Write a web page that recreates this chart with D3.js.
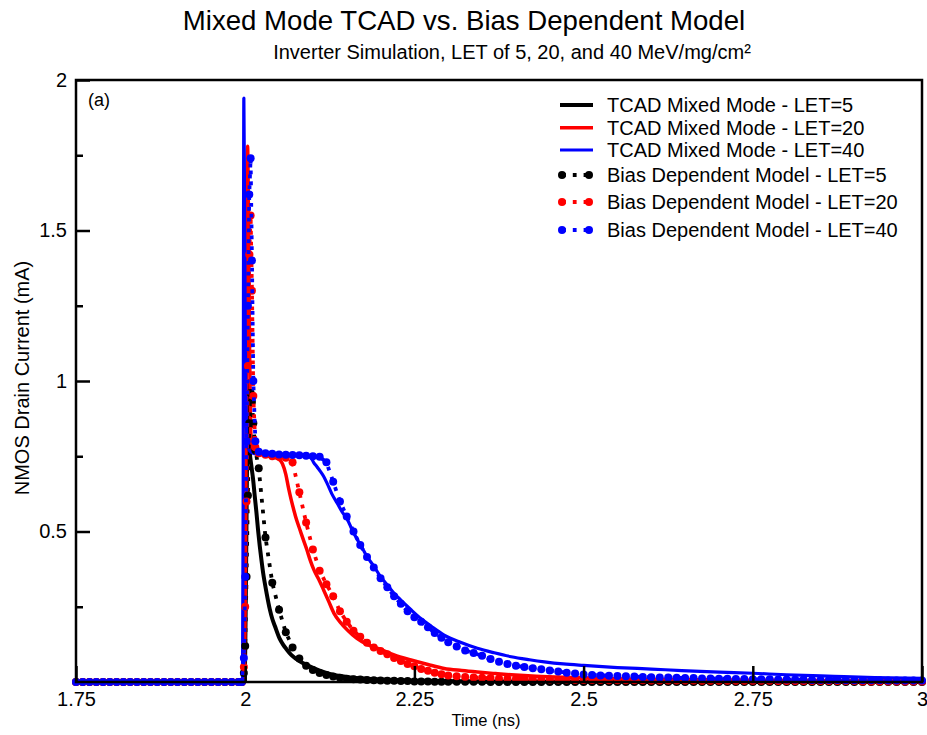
<!DOCTYPE html>
<html>
<head>
<meta charset="utf-8">
<script src="https://cdn.jsdelivr.net/npm/d3@7"></script>
<style>
  html, body { margin: 0; padding: 0; background: #fff; }
  svg { display: block; font-family: "Liberation Sans", Arial, Helvetica, sans-serif; }
</style>
</head>
<body>
<svg id="chart" width="927" height="735"></svg>
<script>
// ---------------- DATA ----------------
const xTicks = [1.75, 2, 2.25, 2.5, 2.75, 3];
const yTicks = [0.5, 1, 1.5, 2];
const yMinorTicks = [0.25, 0.75, 1.25, 1.75];

const seriesNames = [
  "TCAD Mixed Mode - LET=5", "TCAD Mixed Mode - LET=20", "TCAD Mixed Mode - LET=40",
  "Bias Dependent Model - LET=5", "Bias Dependent Model - LET=20", "Bias Dependent Model - LET=40"
];
const seriesColors = ["#000000", "#ff0000", "#0000ff"];

// TCAD mixed mode (solid lines)
const tcad5Time = [1.75, 1.999, 2.001, 2.003, 2.005, 2.0067, 2.009, 2.0117, 2.014, 2.0166, 2.019, 2.0215, 2.024, 2.0264, 2.029, 2.0314, 2.0363, 2.04, 2.0437, 2.0511, 2.056, 2.061, 2.068, 2.0758, 2.085, 2.0955, 2.11, 2.125, 2.15, 2.18, 2.22, 2.27, 2.35, 2.45, 3.0];
const tcad5 = [0, 0, 0.3, 0.8, 1.0, 0.77, 0.72, 0.673, 0.62, 0.563, 0.505, 0.452, 0.405, 0.364, 0.328, 0.298, 0.242, 0.21, 0.187, 0.143, 0.124, 0.109, 0.09, 0.076, 0.063, 0.052, 0.038, 0.027, 0.017, 0.011, 0.007, 0.004, 0.002, 0.001, 0];

const tcad20Time = [1.75, 1.999, 2.0005, 2.002, 2.0035, 2.005, 2.0065, 2.008, 2.010, 2.013, 2.02, 2.03, 2.04, 2.05, 2.055, 2.06, 2.064, 2.068, 2.072, 2.076, 2.081, 2.086, 2.091, 2.096, 2.102, 2.11, 2.116, 2.123, 2.131, 2.14, 2.151, 2.165, 2.18, 2.2, 2.22, 2.245, 2.27, 2.294, 2.32, 2.343, 2.37, 2.393, 2.43, 2.49, 2.55, 2.645, 2.75, 2.87, 3.0];
const tcad20 = [0, 0, 0.4, 1.2, 1.78, 1.5, 1.1, 0.85, 0.775, 0.765, 0.758, 0.752, 0.748, 0.74, 0.725, 0.69, 0.645, 0.605, 0.57, 0.538, 0.505, 0.472, 0.44, 0.405, 0.37, 0.335, 0.305, 0.27, 0.229, 0.2, 0.173, 0.145, 0.125, 0.108, 0.09, 0.073, 0.058, 0.045, 0.038, 0.033, 0.028, 0.024, 0.019, 0.015, 0.011, 0.008, 0.006, 0.004, 0.003];

const tcad40Time = [1.75, 1.996, 1.997, 1.998, 1.999, 2.000, 2.001, 2.003, 2.006, 2.010, 2.015, 2.03, 2.05, 2.07, 2.09, 2.097, 2.101, 2.106, 2.111, 2.116, 2.121, 2.128, 2.136, 2.143, 2.151, 2.158, 2.166, 2.173, 2.18, 2.19, 2.2, 2.21, 2.22, 2.23, 2.245, 2.26, 2.275, 2.294, 2.318, 2.343, 2.368, 2.393, 2.42, 2.442, 2.47, 2.5, 2.55, 2.6, 2.645, 2.7, 2.75, 2.8, 2.87, 2.93, 3.0];
const tcad40 = [0, 0, 0.6, 1.94, 1.6, 1.2, 0.95, 0.8, 0.77, 0.762, 0.758, 0.756, 0.755, 0.754, 0.752, 0.745, 0.73, 0.715, 0.7, 0.683, 0.66, 0.625, 0.594, 0.566, 0.54, 0.505, 0.472, 0.445, 0.417, 0.385, 0.35, 0.322, 0.295, 0.272, 0.24, 0.21, 0.185, 0.156, 0.132, 0.112, 0.097, 0.084, 0.074, 0.067, 0.06, 0.055, 0.048, 0.043, 0.038, 0.033, 0.029, 0.024, 0.019, 0.015, 0.012];

// Bias dependent model (markers + dotted line)
const modelTime = [
  1.75, 1.76, 1.77, 1.78, 1.79, 1.80, 1.81, 1.82, 1.83, 1.84, 1.85, 1.86, 1.87, 1.88, 1.89, 1.90, 1.91, 1.92, 1.93, 1.94, 1.95, 1.96, 1.97, 1.98, 1.99,
  1.995, 1.998, 2.000, 2.002, 2.004, 2.006, 2.008, 2.010, 2.012, 2.015,
  2.02, 2.03, 2.04, 2.05, 2.06, 2.07, 2.08, 2.09, 2.10, 2.11, 2.12, 2.13, 2.14, 2.15, 2.16, 2.17, 2.18, 2.19, 2.20, 2.21, 2.22, 2.23, 2.24, 2.25, 2.26, 2.27, 2.28, 2.29, 2.30,
  2.3125, 2.325, 2.3375, 2.35, 2.3625, 2.375, 2.3875, 2.40, 2.4125, 2.425, 2.4375, 2.45, 2.4625, 2.475, 2.4875, 2.50,
  2.5125, 2.525, 2.5375, 2.55, 2.5625, 2.575, 2.5875, 2.60, 2.6125, 2.625, 2.6375, 2.65, 2.6625, 2.675, 2.6875, 2.70, 2.7125, 2.725, 2.7375, 2.75,
  2.7625, 2.775, 2.7875, 2.80, 2.8125, 2.825, 2.8375, 2.85, 2.8625, 2.875, 2.8875, 2.90, 2.9125, 2.925, 2.9375, 2.95, 2.9625, 2.975, 2.9875, 3.00
];
const model5 = [
  0, 0, 0, 0, 0, 0, 0, 0, 0, 0, 0, 0, 0, 0, 0, 0, 0, 0, 0, 0, 0, 0, 0, 0, 0,
  0, 0.03, 0.12, 0.35, 0.62, 0.86, 0.96, 0.93, 0.86, 0.77,
  0.71, 0.48, 0.33, 0.24, 0.165, 0.115, 0.078, 0.054, 0.04, 0.03, 0.023, 0.018, 0.014, 0.011, 0.009, 0.008, 0.007, 0.006, 0.005, 0.004, 0.004, 0.003, 0.003, 0.002, 0.002, 0.002, 0.001, 0.001, 0.001,
  0.001, 0.001, 0.001, 0.001, 0, 0, 0, 0, 0, 0, 0, 0, 0, 0, 0, 0,
  0, 0, 0, 0, 0, 0, 0, 0, 0, 0, 0, 0, 0, 0, 0, 0, 0, 0, 0, 0,
  0, 0, 0, 0, 0, 0, 0, 0, 0, 0, 0, 0, 0, 0, 0, 0, 0, 0, 0, 0
];
const model20 = [
  0, 0, 0, 0, 0, 0, 0, 0, 0, 0, 0, 0, 0, 0, 0, 0, 0, 0, 0, 0, 0, 0, 0, 0, 0,
  0, 0.05, 0.25, 0.6, 1.05, 1.42, 1.55, 1.3, 0.95, 0.78,
  0.76, 0.755, 0.75, 0.748, 0.745, 0.73, 0.63, 0.53, 0.44, 0.37, 0.325, 0.285, 0.235, 0.2, 0.17, 0.15, 0.13, 0.115, 0.103, 0.092, 0.08, 0.07, 0.06, 0.052, 0.043, 0.037, 0.031, 0.026, 0.022,
  0.019, 0.017, 0.015, 0.014, 0.013, 0.012, 0.011, 0.010, 0.010, 0.009, 0.009, 0.008, 0.008, 0.008, 0.007, 0.007,
  0.007, 0.007, 0.006, 0.006, 0.006, 0.006, 0.006, 0.005, 0.005, 0.005, 0.005, 0.005, 0.005, 0.004, 0.004, 0.004, 0.004, 0.004, 0.004, 0.004,
  0.004, 0.004, 0.003, 0.003, 0.003, 0.003, 0.003, 0.003, 0.003, 0.003, 0.003, 0.003, 0.002, 0.002, 0.002, 0.002, 0.002, 0.002, 0.002, 0.002
];
const model40 = [
  0, 0, 0, 0, 0, 0, 0, 0, 0, 0, 0, 0, 0, 0, 0, 0, 0, 0, 0, 0, 0, 0, 0, 0, 0,
  0, 0.08, 0.35, 0.8, 1.25, 1.62, 1.74, 1.4, 1.0, 0.8,
  0.765, 0.76, 0.758, 0.756, 0.755, 0.754, 0.753, 0.752, 0.75, 0.748, 0.73, 0.665, 0.6, 0.55, 0.5, 0.455, 0.415, 0.38, 0.345, 0.315, 0.285, 0.26, 0.235, 0.215, 0.2, 0.182, 0.163, 0.147, 0.132,
  0.118, 0.105, 0.096, 0.087, 0.076, 0.067, 0.06, 0.054, 0.05, 0.046, 0.042, 0.038, 0.035, 0.031, 0.028, 0.025,
  0.023, 0.022, 0.021, 0.02, 0.019, 0.018, 0.017, 0.016, 0.015, 0.015, 0.014, 0.013, 0.013, 0.012, 0.012, 0.011, 0.011, 0.010, 0.010, 0.009,
  0.009, 0.009, 0.008, 0.008, 0.008, 0.008, 0.007, 0.007, 0.007, 0.007, 0.006, 0.006, 0.006, 0.006, 0.006, 0.005, 0.005, 0.005, 0.005, 0.005
];

// ---------------- CHART ----------------
const svg = d3.select("#chart");
const plot = { left: 76, right: 922, top: 80, bottom: 682 };

const x = d3.scaleLinear().domain([1.75, 3]).range([plot.left, plot.right]);
const y = d3.scaleLinear().domain([0, 2]).range([plot.bottom, plot.top]);

// Title
svg.append("text").attr("x", 464).attr("y", 30).attr("text-anchor", "middle")
  .attr("font-size", 27.6).text("Mixed Mode TCAD vs. Bias Dependent Model");
svg.append("text").attr("x", 512).attr("y", 59).attr("text-anchor", "middle")
  .attr("font-size", 20).text("Inverter Simulation, LET of 5, 20, and 40 MeV/mg/cm²");

// Series
const tcadSets = [
  tcad5Time.map((t, i) => [t, tcad5[i]]),
  tcad20Time.map((t, i) => [t, tcad20[i]]),
  tcad40Time.map((t, i) => [t, tcad40[i]])
];
const modelSets = [model5, model20, model40].map(arr => modelTime.map((t, i) => [t, arr[i]]));

const line = d3.line().x(d => x(d[0])).y(d => y(d[1])).curve(d3.curveMonotoneX);
const tcadWidths = [4, 3.5, 3.2];

const gData = svg.append("g");
tcadSets.forEach((s, k) => {
  gData.append("path").datum(s).attr("d", line)
    .attr("fill", "none").attr("stroke", seriesColors[k])
    .attr("stroke-width", tcadWidths[k]).attr("stroke-linejoin", "round");
});
modelSets.forEach((s, k) => {
  gData.append("path").datum(s).attr("d", d3.line().x(d => x(d[0])).y(d => y(d[1])))
    .attr("fill", "none").attr("stroke", seriesColors[k])
    .attr("stroke-width", 3.8).attr("stroke-dasharray", "3.8,7");
  gData.append("g").selectAll("circle").data(s).join("circle")
    .attr("cx", d => x(d[0])).attr("cy", d => y(d[1])).attr("r", 4)
    .attr("fill", seriesColors[k]);
});

// Frame
svg.append("rect").attr("x", plot.left).attr("y", plot.top)
  .attr("width", plot.right - plot.left).attr("height", plot.bottom - plot.top)
  .attr("fill", "none").attr("stroke", "#000").attr("stroke-width", 2.5);

// Axes
const fmt = d => String(d);
const xAxis = svg.append("g").attr("transform", `translate(0,${plot.bottom})`)
  .call(d3.axisBottom(x).tickValues(xTicks).tickSize(-16).tickPadding(10).tickFormat(fmt));
const yAxis = svg.append("g").attr("transform", `translate(${plot.left},0)`)
  .call(d3.axisLeft(y).tickValues(yTicks).tickSize(-14).tickPadding(9).tickFormat(fmt));
const yMinor = svg.append("g").attr("transform", `translate(${plot.left},0)`)
  .call(d3.axisLeft(y).tickValues(yMinorTicks).tickSize(-7).tickFormat(""));
[xAxis, yAxis, yMinor].forEach(g => {
  g.select(".domain").remove();
  g.selectAll("line").attr("stroke", "#000").attr("stroke-width", 2.5);
  g.selectAll("text").attr("font-size", 20).attr("fill", "#000")
    .attr("font-family", "Liberation Sans, Arial, sans-serif");
});

// Axis labels
svg.append("text").attr("x", 486).attr("y", 726).attr("text-anchor", "middle")
  .attr("font-size", 16.5).text("Time (ns)");
svg.append("text").attr("transform", "translate(29,378) rotate(-90)").attr("text-anchor", "middle")
  .attr("font-size", 20).text("NMOS Drain Current (mA)");

// Panel label
svg.append("text").attr("x", 88).attr("y", 106).attr("font-size", 18).text("(a)");

// Legend
const legendY = [105, 127.7, 150, 175, 202, 230];
const lg = svg.append("g");
seriesNames.forEach((name, i) => {
  const c = seriesColors[i % 3];
  const yy = legendY[i];
  if (i < 3) {
    lg.append("line").attr("x1", 560).attr("x2", 593).attr("y1", yy).attr("y2", yy)
      .attr("stroke", c).attr("stroke-width", tcadWidths[i]);
  } else {
    lg.append("line").attr("x1", 562).attr("x2", 594).attr("y1", yy).attr("y2", yy)
      .attr("stroke", c).attr("stroke-width", 3.8).attr("stroke-dasharray", "3.8,7");
    lg.append("circle").attr("cx", 562).attr("cy", yy).attr("r", 4).attr("fill", c);
    lg.append("circle").attr("cx", 589).attr("cy", yy).attr("r", 4).attr("fill", c);
  }
  lg.append("text").attr("x", 607).attr("y", yy + 7).attr("font-size", 20).text(name);
});
</script>
</body>
</html>
